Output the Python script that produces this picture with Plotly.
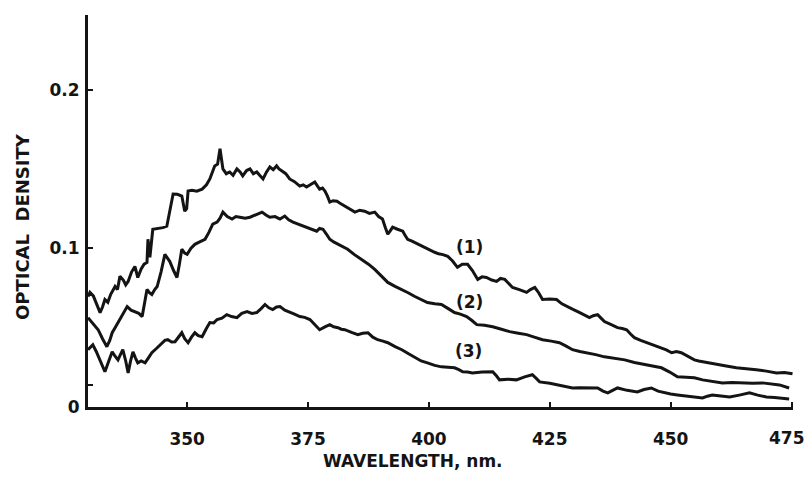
import plotly.graph_objects as go

# Curve (1)
x1 = [329.5, 329.9, 330.6, 331.3, 332.0, 332.5, 333.0, 333.6, 334.2, 335.1, 335.6, 336.1, 336.8, 337.3,
      337.8, 338.5, 339.2, 339.8, 340.5, 341.1, 341.7, 341.9, 342.3, 342.9, 344.0, 345.0, 345.8, 346.5,
      347.1, 348.0, 348.9, 349.5, 349.9, 350.2, 351.0, 352.0, 353.1, 354.0, 354.7, 355.7, 356.3, 356.8,
      357.4, 358.1, 358.8, 359.5, 360.3, 361.0, 361.5, 362.3, 363.0, 363.7, 364.4, 365.0, 365.7, 366.4,
      367.1, 367.8, 368.5, 369.0, 369.6, 370.4, 371.2, 372.2, 373.3, 374.0, 374.7, 375.5, 376.4, 377.0,
      377.4, 378.0, 378.5, 379.0, 379.5, 380.2, 381.0, 381.8, 382.6, 383.6, 384.7, 385.7, 386.7, 387.7,
      388.8, 389.6, 390.4, 391.0, 391.5, 392.0, 392.5, 393.5, 394.6, 395.1, 395.6, 396.5, 397.5, 398.5,
      399.3, 400.2, 401.2, 402.0, 402.9, 403.9, 404.9, 405.9, 406.9, 408.0, 409.0, 410.1, 411.0, 411.9,
      413.0, 414.0, 414.8, 415.7, 416.5, 417.3, 418.7, 420.2, 421.0, 421.9, 422.7, 423.5, 425.0, 426.4,
      427.5, 428.5, 429.8, 431.2, 432.2, 433.2, 434.0, 434.9, 435.6, 436.3, 437.6, 439.0, 440.0, 440.9,
      441.7, 442.5, 443.8, 445.2, 446.6, 448.1, 449.1, 450.2, 451.2, 452.2, 453.5, 454.9, 455.8, 456.6,
      458.0, 459.5, 461.5, 463.6, 465.6, 467.7, 469.8, 471.9, 473.5, 475.2]
y1 = [0.0696, 0.0722, 0.0700, 0.0650, 0.0595, 0.0630, 0.0677, 0.0660, 0.0710, 0.0759, 0.0740, 0.0823, 0.0800, 0.0770,
      0.0791, 0.0850, 0.0886, 0.0816, 0.0870, 0.0900, 0.0911, 0.1057, 0.0943, 0.1120, 0.1125, 0.1130, 0.1139, 0.1250,
      0.1342, 0.1340, 0.1329, 0.1234, 0.1250, 0.1361, 0.1365, 0.1360, 0.1373, 0.1400, 0.1437, 0.1519, 0.1530, 0.1627,
      0.1500, 0.1470, 0.1481, 0.1460, 0.1500, 0.1480, 0.1456, 0.1490, 0.1500, 0.1470, 0.1481, 0.1460, 0.1437, 0.1480,
      0.1513, 0.1495, 0.1519, 0.1500, 0.1487, 0.1470, 0.1437, 0.1420, 0.1392, 0.1400, 0.1386, 0.1400, 0.1418, 0.1390,
      0.1373, 0.1380, 0.1361, 0.1330, 0.1291, 0.1300, 0.1297, 0.1280, 0.1266, 0.1250, 0.1228, 0.1240, 0.1234, 0.1220,
      0.1228, 0.1200, 0.1184, 0.1130, 0.1089, 0.1110, 0.1133, 0.1120, 0.1108, 0.1080, 0.1057, 0.1045, 0.1030, 0.1013,
      0.1000, 0.0990, 0.0975, 0.0965, 0.0960, 0.0949, 0.0920, 0.0880, 0.0900, 0.0899, 0.0860, 0.0804, 0.0820, 0.0816,
      0.0800, 0.0791, 0.0810, 0.0804, 0.0780, 0.0753, 0.0740, 0.0722, 0.0740, 0.0753, 0.0720, 0.0677, 0.0680, 0.0677,
      0.0650, 0.0633, 0.0615, 0.0595, 0.0580, 0.0563, 0.0575, 0.0582, 0.0560, 0.0538, 0.0520, 0.0500, 0.0495, 0.0487,
      0.0460, 0.0437, 0.0420, 0.0405, 0.0390, 0.0373, 0.0360, 0.0342, 0.0350, 0.0342, 0.0320, 0.0297, 0.0290, 0.0285,
      0.0275, 0.0266, 0.0258, 0.0247, 0.0242, 0.0234, 0.0226, 0.0215, 0.0218, 0.0209]

# Curve (2)
x2 = [329.5, 330.5, 331.6, 332.5, 333.4, 334.0, 334.5, 335.1, 335.7, 336.6, 337.6, 338.4, 339.2, 340.0,
      340.7, 341.2, 341.7, 342.2, 342.7, 343.3, 343.8, 344.6, 345.4, 345.9, 346.4, 347.2, 347.9, 348.4,
      348.9, 349.5, 350.0, 350.8, 351.6, 352.6, 353.7, 354.5, 355.3, 356.2, 356.8, 357.4, 358.3, 359.3,
      360.1, 360.9, 362.0, 363.0, 364.2, 365.5, 366.3, 367.1, 368.2, 369.2, 370.2, 371.0, 371.9, 373.3,
      374.7, 375.8, 376.8, 377.4, 378.1, 378.8, 379.5, 380.3, 381.2, 382.2, 383.2, 384.6, 386.1, 387.5,
      388.8, 390.1, 391.5, 393.0, 394.4, 395.7, 397.1, 398.4, 399.7, 401.2, 402.6, 404.0, 405.3, 406.5,
      407.8, 408.9, 409.9, 411.5, 413.2, 415.0, 416.7, 418.5, 420.2, 421.8, 423.5, 425.3, 427.0, 428.3,
      429.7, 431.2, 432.6, 434.5, 436.3, 438.4, 440.5, 442.5, 444.6, 446.3, 448.1, 449.8, 451.4, 453.2,
      454.9, 456.6, 458.6, 460.7, 462.7, 464.8, 466.9, 469.0, 470.7, 472.5, 474.5]
y2 = [0.0563, 0.0530, 0.0487, 0.0430, 0.0380, 0.0420, 0.0468, 0.0500, 0.0532, 0.0580, 0.0633, 0.0610, 0.0601, 0.0590,
      0.0570, 0.0650, 0.0741, 0.0720, 0.0709, 0.0740, 0.0759, 0.0850, 0.0962, 0.0940, 0.0918, 0.0860, 0.0816, 0.0900,
      0.0994, 0.0970, 0.0962, 0.1000, 0.1025, 0.1040, 0.1057, 0.1100, 0.1152, 0.1165, 0.1190, 0.1228, 0.1200, 0.1184,
      0.1200, 0.1196, 0.1190, 0.1196, 0.1210, 0.1228, 0.1210, 0.1196, 0.1200, 0.1184, 0.1203, 0.1180, 0.1165, 0.1150,
      0.1133, 0.1120, 0.1108, 0.1125, 0.1120, 0.1090, 0.1057, 0.1040, 0.1025, 0.1010, 0.0994, 0.0960, 0.0930, 0.0900,
      0.0867, 0.0825, 0.0785, 0.0760, 0.0741, 0.0720, 0.0696, 0.0675, 0.0658, 0.0650, 0.0646, 0.0620, 0.0595, 0.0585,
      0.0570, 0.0545, 0.0519, 0.0515, 0.0506, 0.0490, 0.0475, 0.0465, 0.0456, 0.0440, 0.0424, 0.0415, 0.0405, 0.0385,
      0.0361, 0.0350, 0.0342, 0.0330, 0.0316, 0.0305, 0.0297, 0.0280, 0.0266, 0.0255, 0.0247, 0.0220, 0.0190, 0.0188,
      0.0184, 0.0171, 0.0160, 0.0152, 0.0155, 0.0152, 0.0150, 0.0152, 0.0145, 0.0139, 0.0120]

# Curve (3)
x3 = [329.5, 330.5, 331.2, 332.0, 333.0, 333.8, 334.5, 335.1, 335.7, 336.2, 336.7, 337.3, 337.8, 338.3,
      338.8, 339.3, 339.8, 340.5, 341.3, 342.0, 342.7, 343.7, 344.8, 345.4, 346.0, 346.8, 347.5, 348.2,
      348.9, 349.5, 350.2, 350.9, 351.6, 352.3, 353.1, 353.9, 354.7, 355.5, 356.2, 357.2, 358.2, 359.2,
      360.3, 361.3, 362.4, 363.4, 364.4, 365.3, 366.1, 366.9, 367.7, 368.5, 369.2, 370.2, 371.2, 372.2,
      373.3, 374.3, 375.4, 376.4, 377.4, 378.5, 379.5, 380.3, 381.2, 381.9, 382.6, 384.0, 385.3, 386.3,
      387.4, 388.4, 389.4, 390.5, 391.5, 393.0, 394.4, 395.8, 397.1, 398.4, 399.7, 401.2, 402.6, 404.0,
      405.3, 406.2, 407.0, 408.0, 409.0, 411.0, 413.2, 414.0, 414.6, 416.4, 418.1, 419.8, 421.4, 422.2,
      422.9, 425.0, 427.0, 428.4, 429.7, 431.2, 432.6, 433.8, 434.9, 436.0, 437.0, 438.0, 439.0, 441.0,
      443.1, 444.5, 446.0, 447.4, 448.7, 450.0, 451.4, 452.8, 454.3, 455.5, 456.6, 457.6, 458.6, 460.4,
      462.2, 464.2, 466.3, 468.0, 469.8, 471.5, 473.1, 474.5]
y3 = [0.0361, 0.0392, 0.0350, 0.0297, 0.0222, 0.0290, 0.0348, 0.0320, 0.0297, 0.0330, 0.0361, 0.0290, 0.0215, 0.0290,
      0.0348, 0.0310, 0.0278, 0.0290, 0.0278, 0.0310, 0.0342, 0.0370, 0.0405, 0.0420, 0.0424, 0.0410, 0.0411, 0.0440,
      0.0468, 0.0430, 0.0405, 0.0440, 0.0468, 0.0450, 0.0443, 0.0490, 0.0532, 0.0530, 0.0551, 0.0560, 0.0582, 0.0570,
      0.0563, 0.0590, 0.0601, 0.0590, 0.0595, 0.0620, 0.0646, 0.0625, 0.0614, 0.0630, 0.0633, 0.0610, 0.0595, 0.0585,
      0.0570, 0.0565, 0.0551, 0.0520, 0.0487, 0.0505, 0.0519, 0.0505, 0.0500, 0.0490, 0.0487, 0.0470, 0.0456, 0.0465,
      0.0468, 0.0440, 0.0424, 0.0415, 0.0405, 0.0380, 0.0361, 0.0335, 0.0310, 0.0290, 0.0278, 0.0262, 0.0253, 0.0250,
      0.0247, 0.0235, 0.0222, 0.0220, 0.0215, 0.0220, 0.0222, 0.0195, 0.0171, 0.0175, 0.0171, 0.0190, 0.0203, 0.0180,
      0.0158, 0.0150, 0.0139, 0.0128, 0.0120, 0.0122, 0.0120, 0.0118, 0.0120, 0.0100, 0.0089, 0.0105, 0.0120, 0.0105,
      0.0095, 0.0110, 0.0120, 0.0100, 0.0089, 0.0082, 0.0076, 0.0070, 0.0063, 0.0060, 0.0057, 0.0068, 0.0076, 0.0070,
      0.0063, 0.0075, 0.0089, 0.0075, 0.0063, 0.0060, 0.0057, 0.0051]

x_tickvals = [350, 375, 400, 425, 450, 475]
x_ticktext = ["350", "375", "400", "425", "450", ""]   # last label drawn below so it stays inside the page
last_x_label = "475"
y_tickvals = [0, 0.014, 0.1, 0.2]
y_ticktext = ["0", "", "0.1", "0.2"]

curve_labels = ["(1)", "(2)", "(3)"]
label_x = [408.4, 408.4, 408.2]
label_y = [0.101, 0.066, 0.035]

INK = "#141414"
FONT = "DejaVu Sans"

fig = go.Figure()
for xs, ys in [(x1, y1), (x2, y2), (x3, y3)]:
    fig.add_trace(go.Scatter(x=xs, y=ys, mode="lines",
                             line=dict(color=INK, width=3), showlegend=False,
                             hoverinfo="skip"))

for t, lx, ly in zip(curve_labels, label_x, label_y):
    fig.add_annotation(x=lx, y=ly, text="<b>%s</b>" % t, showarrow=False,
                       xanchor="center", yanchor="middle",
                       font=dict(family=FONT, size=17, color=INK))

# last x tick label, nudged left so it is not cut at the page edge
fig.add_annotation(x=x_tickvals[-1], xref="x", yref="paper", y=-0.079,
                   xanchor="center", yanchor="middle", xshift=-5,
                   text="<b>%s</b>" % last_x_label, showarrow=False,
                   font=dict(family=FONT, size=17, color=INK))

fig.add_annotation(xref="paper", yref="paper", x=-0.0936, y=0.459,
                   xanchor="center", yanchor="middle",
                   text="<b>OPTICAL  DENSITY</b>", textangle=-90, showarrow=False,
                   font=dict(family=FONT, size=18, color=INK))
fig.add_annotation(xref="paper", yref="paper", x=0.461, y=-0.138,
                   xanchor="center", yanchor="middle",
                   text="<b>WAVELENGTH, nm.</b>", showarrow=False,
                   font=dict(family=FONT, size=17, color=INK))

fig.update_xaxes(range=[329.5, 475.3], tickvals=x_tickvals, ticktext=x_ticktext,
                 showgrid=False, zeroline=False, showline=True, linecolor=INK, linewidth=3,
                 ticks="inside", ticklen=5, tickwidth=2, tickcolor=INK,
                 ticklabelstandoff=15, automargin=False,
                 tickfont=dict(family=FONT, size=17, color=INK, weight="bold"))
fig.update_yaxes(range=[0, 0.247], tickvals=y_tickvals, ticktext=y_ticktext,
                 showgrid=False, zeroline=False, showline=True, linecolor=INK, linewidth=3,
                 ticks="inside", ticklen=5, tickwidth=2, tickcolor=INK,
                 ticklabelstandoff=2, automargin=False,
                 tickfont=dict(family=FONT, size=17, color=INK, weight="bold"))

fig.update_layout(width=806, height=479, margin=dict(l=88, r=13, t=15, b=72),
                  plot_bgcolor="white", paper_bgcolor="white")

fig.write_html("out.html", config={"displayModeBar": False},
               post_script="document.body.style.margin='0';")
